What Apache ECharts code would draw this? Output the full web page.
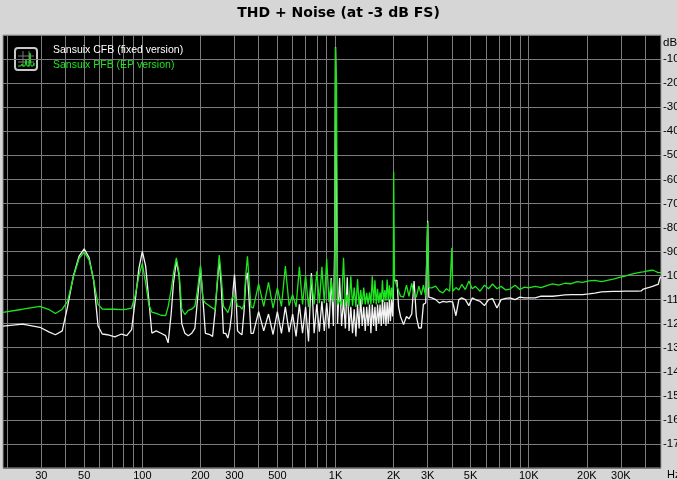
<!DOCTYPE html>
<html><head><meta charset="utf-8">
<script src="https://cdn.jsdelivr.net/npm/echarts@6/dist/echarts.min.js"></script>
<style>html,body{margin:0;padding:0;background:#d6d6d6}#c{width:677px;height:480px}</style>
</head><body><div id="c"></div>
<script>
// Frequencies (Hz) shared by both traces
const freqHz = [
  19,24,29.5,33,35.5,38.5,41,44,47,50,
  53,56,59,62,66,72,78,83,88,92,
  96,100,104,108,112,118,125,132,136,141,
  145,150,155,160,166,173,180,187,193,200,
  206,212,224,231,238,244,250,256,263,270,
  277,284,290,295,300,305,311,320,328,336,
  343,350,357,365,375,400,425,450,475,500,
  525,550,575,600,625,650,675,700,725,750,
  775,800,825,850,875,900,925,950,975,990,
  1000,1012,1025,
  1050,1075,1100,1125,1150,1175,1200,1225,1250,1275,
  1300,1325,1350,1375,1400,1425,1450,1475,1500,1525,
  1550,1575,1600,1625,1650,1675,1700,1725,1750,1775,
  1800,1825,1850,1875,1900,1925,1950,1975,1990,
  2000,2020,2080,2120,2170,2250,2330,2400,2480,2550,
  2620,2700,2780,2850,2930,3000,3040,3150,3300,3450,
  3600,3750,3900,3970,4000,4040,4200,4350,4500,4700,
  4900,5100,5300,5600,5900,6200,6500,6850,7200,7600,
  8000,8500,9000,9500,10000,10800,11600,12400,13300,14300,
  15400,16600,17800,19000,20500,22000,23800,25500,27400,29500,
  31500,33400,35000,36500,38200,39200,40800,42500,44100,45500,
  46800,47800,48400
];
// Sansuix CFB (fixed version), dB
const cfbDb = [
  -121.0,-120.2,-121.5,-123.5,-124.6,-123.0,-113.0,-100.0,-92.0,-88.9,
  -92.5,-102.0,-121.0,-124.3,-124.6,-125.5,-124.3,-125.0,-122.5,-110.0,
  -97.0,-90.0,-96.0,-110.0,-123.9,-123.0,-124.0,-125.0,-128.0,-116.0,
  -103.0,-94.0,-100.0,-120.0,-124.0,-125.0,-124.0,-122.0,-110.0,-96.7,
  -110.0,-124.0,-124.6,-125.3,-115.0,-104.0,-93.3,-104.0,-124.0,-124.0,
  -126.0,-122.0,-116.0,-106.0,-99.6,-108.0,-123.0,-124.0,-124.6,-115.0,
  -102.0,-98.8,-110.0,-124.0,-124.0,-115.0,-123.0,-116.0,-124.5,-115.0,
  -124.0,-113.0,-123.5,-116.0,-125.3,-112.0,-124.0,-113.0,-127.4,-98.9,
  -124.0,-112.0,-123.3,-110.7,-123.0,-111.4,-122.0,-101.0,-121.0,-88.0,
  -5.0,-60.0,-120.0,
  -101,-121,-110,-122,-100.7,-123,-113,-124,-114,-125.3,
  -112,-122,-109.6,-121,-113,-123,-113,-121,-112,-124,
  -112,-121,-113,-123,-112,-120,-112,-121,-110,-120,
  -111,-121,-111,-120,-110,-119,-110,-117,-110,
  -100,-102,-102,-113,-117,-120.4,-117,-118,-116,-102.3,
  -117,-121.8,-121.8,-112,-111.4,-77.2,-109,-109.3,-110,-111.4,
  -110.7,-111,-110.7,-111,-111,-111,-116.7,-110,-109.3,-110,
  -112.5,-109.3,-110,-110.7,-112.5,-110,-109.6,-113.5,-110,-109.5,
  -109.3,-110,-109,-109.3,-109.3,-109.3,-108.6,-108.6,-108.6,-108.3,
  -108,-107.9,-107.9,-107.9,-107.6,-107.3,-106.8,-106.7,-106.6,-106.6,
  -106.5,-106.5,-106.5,-106.5,-106.4,-105.6,-105.2,-104.8,-104.4,-104,
  -103.7,-101,-100.5
];
// Sansuix PFB (EP version), dB
const pfbDb = [
  -115.3,-114.0,-112.8,-114.2,-115.8,-114.0,-110.7,-100.5,-93.0,-90.3,
  -93.5,-102.0,-112.0,-113.9,-114.0,-114.0,-114.2,-114.0,-113.5,-108.0,
  -100.0,-95.0,-103.0,-112.0,-115.2,-115.7,-116.5,-116.7,-113.0,-106.0,
  -99.0,-92.6,-99.0,-114.0,-116.2,-114.5,-114.0,-112.8,-106.0,-95.7,
  -110.0,-111.4,-112.8,-113.5,-114.2,-103.0,-91.5,-100.0,-112.8,-114.0,
  -115.4,-113.0,-110.0,-108.0,-107.2,-110.0,-112.8,-112.8,-114.0,-112.0,
  -100.0,-92.0,-102.0,-113.0,-113.5,-103.5,-112.8,-102.8,-113.5,-105.1,
  -112.8,-96.1,-112.5,-107.9,-113.0,-96.4,-112.0,-100.0,-113.0,-100.3,
  -112.0,-98.2,-111.5,-96.4,-111.5,-93.0,-111.0,-101.7,-111.0,-100.0,
  -5.1,-20.0,-112.0,
  -110,-112.8,-92.6,-112.5,-108,-112.8,-100.3,-112.5,-105,-113,
  -101.5,-112.5,-106,-112,-105,-112,-107.2,-112,-107,-112,
  -100.3,-111.5,-102,-112,-105.5,-111.5,-107,-111,-102,-111,
  -106,-110.5,-101.7,-110.5,-104,-110,-105,-110,-104,
  -56.8,-101.4,-104.4,-104.4,-108.6,-109,-104,-108.6,-103.3,-108,
  -109,-104.4,-108,-104,-108.6,-77.8,-105,-105.1,-104.4,-106.5,
  -107.2,-105.5,-106.5,-106,-88.5,-106.5,-105,-106,-103.7,-105.8,
  -102.3,-105.5,-104.5,-106.5,-104,-105.5,-103.5,-105.5,-104.5,-106,
  -105.6,-104,-105.8,-104.8,-105.1,-104.5,-105,-104.2,-103.5,-104,
  -103.2,-103.4,-102.5,-102.8,-102.2,-102,-102.5,-102,-101.5,-100.8,
  -100.2,-99.6,-99.2,-98.9,-98.6,-98.5,-98.2,-97.9,-97.8,-98.3,
  -98.8,-98.6,-98.8
];
const seriesNames = ['Sansuix CFB (fixed version)', 'Sansuix PFB (EP version)'];
const gridFreqs = [20,30,40,50,60,70,80,90,100,200,300,400,500,600,700,800,900,
  1000,2000,3000,4000,5000,6000,7000,8000,9000,10000,20000,30000,40000];
const labelFreqs = [30,50,100,200,300,500,1000,2000,3000,5000,10000,20000,30000];
const labelTexts = ['30','50','100','200','300','500','1K','2K','3K','5K','10K','20K','30K'];

const chart = echarts.init(document.getElementById('c'), null, {renderer: 'canvas'});
const FONT = 'Liberation Sans';
const toPairs = (vals) => freqHz.map((f, i) => [f, vals[i]]);

chart.setOption({
  animation: false,
  backgroundColor: '#d6d6d6',
  title: {
    text: 'THD + Noise (at -3 dB FS)', left: 'center', top: 1,
    textStyle: {fontFamily: 'DejaVu Sans', fontSize: 14, fontWeight: 'bold', color: '#000'}
  },
  grid: {left: 3, right: 16, top: 35, bottom: 12, show: true, outerBoundsMode: 'none',
    containLabel: false,
    backgroundColor: '#000', borderColor: '#9a9a9a', borderWidth: 1},
  legend: {
    orient: 'vertical', left: 43, top: 40, itemGap: 4, itemWidth: 0, itemHeight: 10,
    icon: 'none', selectedMode: false,
    textStyle: {fontFamily: FONT, fontSize: 10.5},
    data: [
      {name: seriesNames[0], textStyle: {color: '#ffffff'}},
      {name: seriesNames[1], textStyle: {color: '#1ee61e'}}
    ]
  },
  graphic: [{
    type: 'group', left: 14, top: 47,
    children: [
      {type: 'rect', shape: {x: 0, y: 0, width: 22, height: 22, r: 3},
        style: {fill: '#000', stroke: '#c8c8c8', lineWidth: 2}},
      {type: 'line', shape: {x1: 8, y1: 3, x2: 8, y2: 19}, style: {stroke: '#777', lineWidth: 1}},
      {type: 'line', shape: {x1: 14, y1: 3, x2: 14, y2: 19}, style: {stroke: '#777', lineWidth: 1}},
      {type: 'line', shape: {x1: 3, y1: 8, x2: 19, y2: 8}, style: {stroke: '#777', lineWidth: 1}},
      {type: 'line', shape: {x1: 3, y1: 14, x2: 19, y2: 14}, style: {stroke: '#777', lineWidth: 1}},
      {type: 'polyline', shape: {points: [[3,18],[6,18],[7,16],[8,18],[10,18],[11,12],[12,18],[14,18],[15,5],[16,18],[18,18],[19,15],[19,18]]},
        style: {stroke: '#1ee61e', lineWidth: 1, fill: null}}
    ]
  }],
  xAxis: {
    type: 'log', logBase: 10, min: 19, max: 48400,
    axisLine: {show: false},
    axisTick: {show: false, customValues: gridFreqs},
    splitLine: {show: true, lineStyle: {color: '#7c7c7c', width: 1}},
    axisLabel: {
      customValues: labelFreqs, margin: 2, color: '#000', fontFamily: FONT, fontSize: 11,
      lineHeight: 11,
      formatter: (v) => {
        const i = labelFreqs.findIndex(f => Math.abs(f - v) / f < 1e-3);
        return i >= 0 ? labelTexts[i] : '';
      }
    }
  },
  yAxis: {
    type: 'value', position: 'right', min: -180, max: 0, interval: 10,
    axisLine: {show: false}, axisTick: {show: false},
    splitLine: {show: true, lineStyle: {color: '#7c7c7c', width: 1}},
    axisLabel: {
      margin: 2, color: '#000', fontFamily: FONT, fontSize: 11.5, align: 'left',
      formatter: (v) => v === 0 ? '{top|dB}' : (v === -180 ? '{bot|Hz}' : String(v)),
      rich: {
        top: {padding: [15, 0, 0, 0], fontFamily: FONT, fontSize: 11.5, color: '#000'},
        bot: {padding: [14, 0, 0, 4], fontFamily: FONT, fontSize: 11, color: '#000'}
      }
    }
  },
  series: [
    {name: seriesNames[0], type: 'line', data: toPairs(cfbDb), showSymbol: false,
      lineStyle: {color: '#f2f2f2', width: 1.3}, itemStyle: {color: '#f2f2f2'}},
    {name: seriesNames[1], type: 'line', data: toPairs(pfbDb), showSymbol: false,
      lineStyle: {color: '#1ee61e', width: 1.3}, itemStyle: {color: '#1ee61e'}}
  ]
});
</script></body></html>
